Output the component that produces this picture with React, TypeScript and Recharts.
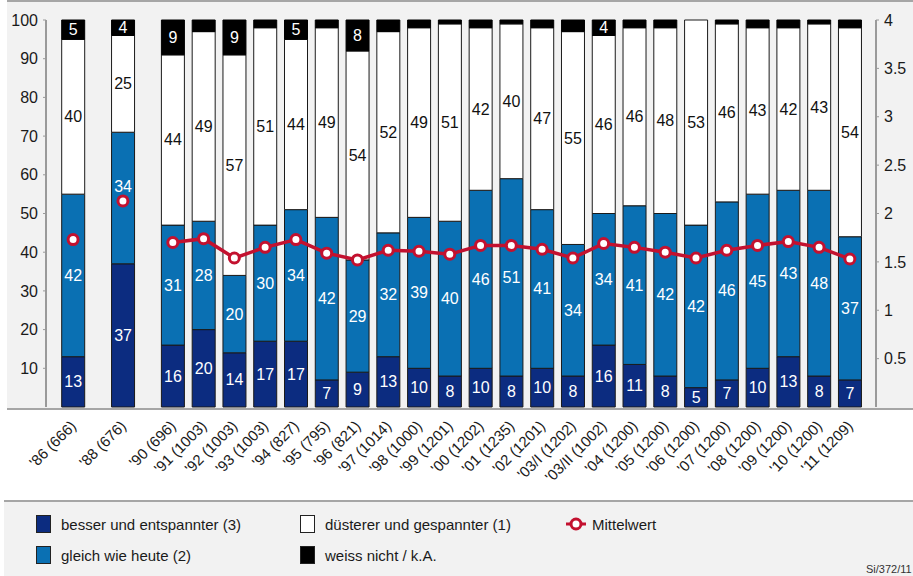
import React from "react";
import {
  ComposedChart,
  Bar,
  Line,
  XAxis,
  YAxis,
  LabelList,
} from "recharts";

const categories = [
  "'86 (666)", "'88 (676)", "'90 (696)", "'91 (1003)", "'92 (1003)",
  "'93 (1003)", "'94 (827)", "'95 (795)", "'96 (821)", "'97 (1014)",
  "'98 (1000)", "'99 (1201)", "'00 (1202)", "'01 (1235)", "'02 (1201)",
  "'03/I (1202)", "'03/II (1002)", "'04 (1200)", "'05 (1200)", "'06 (1200)",
  "'07 (1200)", "'08 (1200)", "'09 (1200)", "'10 (1200)", "'11 (1209)",
];
const besser = [13, 37, 16, 20, 14, 17, 17, 7, 9, 13, 10, 8, 10, 8, 10, 8, 16, 11, 8, 5, 7, 10, 13, 8, 7];
const gleich = [42, 34, 31, 28, 20, 30, 34, 42, 29, 32, 39, 40, 46, 51, 41, 34, 34, 41, 42, 42, 46, 45, 43, 48, 37];
const duesterer = [40, 25, 44, 49, 57, 51, 44, 49, 54, 52, 49, 51, 42, 40, 47, 55, 46, 46, 48, 53, 46, 43, 42, 43, 54];
const weissNicht = [5, 4, 9, 3, 9, 2, 5, 2, 8, 3, 2, 1, 2, 1, 2, 3, 4, 2, 2, 0, 1, 2, 2, 1, 2];
const mittelwert = [1.73, 2.13, 1.7, 1.74, 1.54, 1.65, 1.73, 1.59, 1.52, 1.62, 1.61, 1.58, 1.67, 1.67, 1.63, 1.54, 1.69, 1.65, 1.6, 1.54, 1.62, 1.67, 1.71, 1.65, 1.53];
// first two surveys stand apart, the line only connects from '90 on
const earlyCount = 2;

const leftTicks = [10, 20, 30, 40, 50, 60, 70, 80, 90, 100];
const rightTicks = [0.5, 1, 1.5, 2, 2.5, 3, 3.5, 4];

const EARLY_STEP = 1.62;
const positions = categories.map((_, i) =>
  i < earlyCount ? i * EARLY_STEP : earlyCount * EARLY_STEP + (i - earlyCount)
);

const data = categories.map((name, i) => ({
  name,
  pos: positions[i],
  besser: besser[i],
  gleich: gleich[i],
  duesterer: duesterer[i],
  weissNicht: weissNicht[i],
  meanEarly: i < earlyCount ? mittelwert[i] : null,
  mean: i >= earlyCount ? mittelwert[i] : null,
}));

const FONT = "'Liberation Sans', Arial, Helvetica, sans-serif";
const NAVY = "#0c2c80";
const BLUE = "#0a70b3";
const RED = "#c3112f";

const PLOT_TOP = 20;
const PLOT_H = 387;
const RIGHT_MAX = 4;

const XTick = (props: any) => {
  const { x, y, payload } = props;
  const i = positions.findIndex((p) => Math.abs(p - payload.value) < 1e-6);
  return (
    <g transform={`translate(${x + 4},${y + 12})`}>
      <text
        transform="rotate(-45)"
        textAnchor="end"
        fontSize={15}
        fill="#1a1a1a"
        fontFamily={FONT}
      >
        {categories[i]}
      </text>
    </g>
  );
};

const segLabel = (color: string, min: number) => (props: any) => {
  const { x, y, width, height, value, index } = props;
  if (value == null || value < min) return null;
  let cy = y + height / 2;
  // move the number up when the mean marker sits on it
  const dotY = PLOT_TOP + (1 - mittelwert[index] / RIGHT_MAX) * PLOT_H;
  if (Math.abs(cy - dotY) < 12) cy = dotY - 14;
  return (
    <text
      x={x + width / 2}
      y={cy}
      textAnchor="middle"
      dominantBaseline="central"
      fontSize={16}
      fill={color}
      fontFamily={FONT}
    >
      {value}
    </text>
  );
};

const Swatch = ({ color }: { color: string }) => (
  <span
    style={{
      display: "inline-block",
      width: 15,
      height: 18,
      background: color,
      border: "1px solid #222",
      boxSizing: "border-box",
      marginRight: 10,
    }}
  />
);

const legendItem: React.CSSProperties = {
  position: "absolute",
  display: "flex",
  alignItems: "center",
  fontSize: 15,
  color: "#1a1a1a",
};

export default function App() {
  return (
    <div
      style={{
        position: "absolute",
        left: 0,
        top: 0,
        width: 913,
        height: 576,
        background: "#fff",
        fontFamily: FONT,
        overflow: "hidden",
      }}
    >
      <div
        style={{
          position: "absolute",
          left: 7,
          top: 0,
          width: 906,
          height: 406,
          background: "#f2f2f2",
          borderTop: "2px solid #a6a6a6",
          borderBottom: "2px solid #a6a6a6",
        }}
      />
      <div style={{ position: "absolute", left: 0, top: 0 }}>
        <ComposedChart
          width={913}
          height={500}
          data={data}
          margin={{ top: 20, right: 0, bottom: 0, left: 0 }}
        >
          <XAxis
            type="number"
            dataKey="pos"
            domain={[-0.88, 26.09]}
            ticks={positions}
            interval={0}
            tick={<XTick />}
            tickLine={false}
            axisLine={false}
            height={93}
            allowDataOverflow
          />
          <YAxis
            yAxisId="left"
            domain={[0, 100]}
            ticks={leftTicks}
            width={46}
            tickSize={3}
            tickMargin={5}
            interval={0}
            axisLine={{ stroke: "#9a9a9a", strokeWidth: 2 }}
            tickLine={{ stroke: "#9a9a9a" }}
            tick={{ fontSize: 16, fill: "#1a1a1a", fontFamily: FONT }}
          />
          <YAxis
            yAxisId="right"
            orientation="right"
            domain={[0, RIGHT_MAX]}
            ticks={rightTicks}
            width={37}
            tickSize={3}
            tickMargin={5}
            interval={0}
            axisLine={{ stroke: "#9a9a9a", strokeWidth: 2 }}
            tickLine={{ stroke: "#9a9a9a" }}
            tick={{ fontSize: 16, fill: "#1a1a1a", fontFamily: FONT }}
          />
          <Bar yAxisId="left" dataKey="besser" stackId="a" fill={NAVY} stroke="#1a1a1a" strokeWidth={1} barSize={23} isAnimationActive={false}>
            <LabelList dataKey="besser" content={segLabel("#fff", 0)} />
          </Bar>
          <Bar yAxisId="left" dataKey="gleich" stackId="a" fill={BLUE} stroke="#1a1a1a" strokeWidth={1} barSize={23} isAnimationActive={false}>
            <LabelList dataKey="gleich" content={segLabel("#fff", 0)} />
          </Bar>
          <Bar yAxisId="left" dataKey="duesterer" stackId="a" fill="#fff" stroke="#1a1a1a" strokeWidth={1} barSize={23} isAnimationActive={false}>
            <LabelList dataKey="duesterer" content={segLabel("#111", 0)} />
          </Bar>
          <Bar yAxisId="left" dataKey="weissNicht" stackId="a" fill="#000" stroke="#000" strokeWidth={1} barSize={23} isAnimationActive={false}>
            <LabelList dataKey="weissNicht" content={segLabel("#fff", 4)} />
          </Bar>
          <Line
            yAxisId="right"
            dataKey="meanEarly"
            stroke="none"
            dot={{ r: 5, fill: "#fff", stroke: RED, strokeWidth: 3 }}
            activeDot={false}
            isAnimationActive={false}
          />
          <Line
            yAxisId="right"
            dataKey="mean"
            stroke={RED}
            strokeWidth={3.5}
            dot={{ r: 5, fill: "#fff", stroke: RED, strokeWidth: 3 }}
            activeDot={false}
            isAnimationActive={false}
          />
        </ComposedChart>
      </div>
      <div
        style={{
          position: "absolute",
          left: 4,
          top: 500,
          width: 909,
          height: 76,
          background: "#f2f2f2",
          borderTop: "2px solid #a6a6a6",
        }}
      />
      <div style={{ ...legendItem, left: 36, top: 515 }}>
        <Swatch color={NAVY} />
        besser und entspannter (3)
      </div>
      <div style={{ ...legendItem, left: 36, top: 546 }}>
        <Swatch color={BLUE} />
        gleich wie heute (2)
      </div>
      <div style={{ ...legendItem, left: 300, top: 515 }}>
        <Swatch color="#fff" />
        düsterer und gespannter (1)
      </div>
      <div style={{ ...legendItem, left: 300, top: 546 }}>
        <Swatch color="#000" />
        weiss nicht / k.A.
      </div>
      <div style={{ ...legendItem, left: 565, top: 515 }}>
        <svg width={22} height={18} style={{ marginRight: 5 }}>
          <line x1={1} y1={9} x2={21} y2={9} stroke={RED} strokeWidth={3} />
          <circle cx={11} cy={9} r={5} fill="#fff" stroke={RED} strokeWidth={3} />
        </svg>
        Mittelwert
      </div>
      <div
        style={{
          position: "absolute",
          left: 866,
          top: 563,
          fontSize: 11,
          color: "#333",
          whiteSpace: "nowrap",
        }}
      >
        Si/372/11
      </div>
    </div>
  );
}
